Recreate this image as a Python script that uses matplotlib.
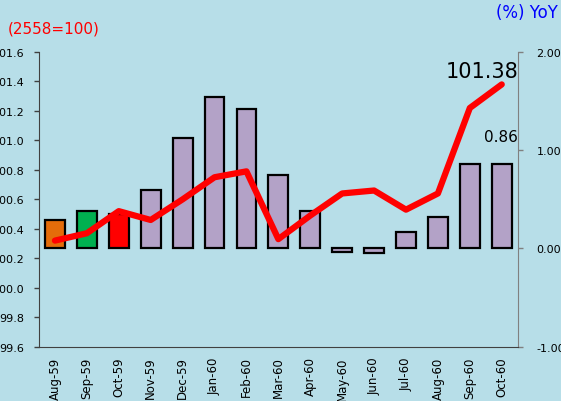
import numpy as np
import matplotlib
matplotlib.use("Agg")
import matplotlib.pyplot as plt

# data
months = ["Aug-59", "Sep-59", "Oct-59", "Nov-59", "Dec-59", "Jan-60", "Feb-60",
          "Mar-60", "Apr-60", "May-60", "Jun-60", "Jul-60", "Aug-60", "Sep-60", "Oct-60"]
yoy = [0.29, 0.38, 0.35, 0.60, 1.12, 1.54, 1.42, 0.75, 0.38, -0.04, -0.05,
       0.17, 0.32, 0.86, 0.86]
index = [100.32, 100.37, 100.52, 100.46, 100.60, 100.75, 100.79, 100.33, 100.49,
         100.64, 100.66, 100.53, 100.64, 101.22, 101.38]
bar_colors = ["#E46C0A", "#00B050", "#FF0000"] + ["#B3A2C7"] * 12

bg = "#B7DEE8"
W, H = 561, 402
fig = plt.figure(figsize=(W / 100, H / 100), dpi=100, facecolor=bg)
ax2 = fig.add_axes([39 / W, (H - 347.7) / H, (517.7 - 39) / W, (347.7 - 53) / H])
ax2.set_facecolor(bg)
ax = ax2.twinx()

x = np.arange(len(months))

# bars on the right axis (YoY %)
ax2.bar(x, yoy, width=0.62, color=bar_colors, edgecolor="black", linewidth=1.6, zorder=2)
ax2.yaxis.tick_right()
ax2.set_ylim(-1.0, 2.0)
ax2.set_yticks([-1.0, 0.0, 1.0, 2.0])
ax2.set_yticklabels(["-1.00", "0.00", "1.00", "2.00"])

# index line on the left axis
ax.yaxis.tick_left()
ax.plot(x, index, color="#FF0000", linewidth=4.5, solid_capstyle="round", zorder=3)
ax.set_ylim(99.6, 101.6)
ax.set_yticks(np.arange(99.6, 101.61, 0.2))
ax.set_yticklabels([f"{v:.1f}" for v in np.arange(99.6, 101.61, 0.2)])
ax.set_zorder(ax2.get_zorder() + 1)
ax.patch.set_visible(False)

for a in (ax, ax2):
    a.set_xlim(-0.5, len(months) - 0.5)
    a.spines["top"].set_visible(False)

ax2.spines["left"].set_visible(False)
ax2.spines["right"].set_color("#808080")
ax2.spines["bottom"].set_color("#404040")
ax.spines["bottom"].set_visible(False)
ax.spines["right"].set_visible(False)
ax.spines["left"].set_color("#404040")

ax2.tick_params(axis="y", direction="out", length=3.5, width=1, colors="#808080",
                labelcolor="black", labelsize=8, pad=10)
ax.tick_params(axis="y", direction="out", length=3.5, width=1, colors="#404040",
               labelcolor="black", labelsize=8, pad=7)

# category ticks between bars, labels centred on bars
ax2.set_xticks(np.arange(-0.5, len(months), 1.0))
ax2.set_xticklabels([])
ax2.set_xticks(x, minor=True)
ax2.set_xticklabels(months, minor=True, rotation=90, fontsize=8.5)
ax2.tick_params(axis="x", which="major", direction="out", length=3.5, color="#404040")
ax2.tick_params(axis="x", which="minor", length=0, pad=7)
ax.set_xticks([])

# annotations
fig.text(8 / W, 1 - 29 / H, "(2558=100)", color="#FF0000", fontsize=11, va="center", ha="left")
fig.text(558 / W, 1 - 13 / H, "(%) YoY", color="#0000FF", fontsize=12, va="center", ha="right")
fig.text(518 / W, 1 - 72 / H, "101.38", color="black", fontsize=15, va="center", ha="right")
fig.text(518 / W, 1 - 137 / H, "0.86", color="black", fontsize=11, va="center", ha="right")

fig.savefig("out.png", dpi=100, facecolor=bg)
